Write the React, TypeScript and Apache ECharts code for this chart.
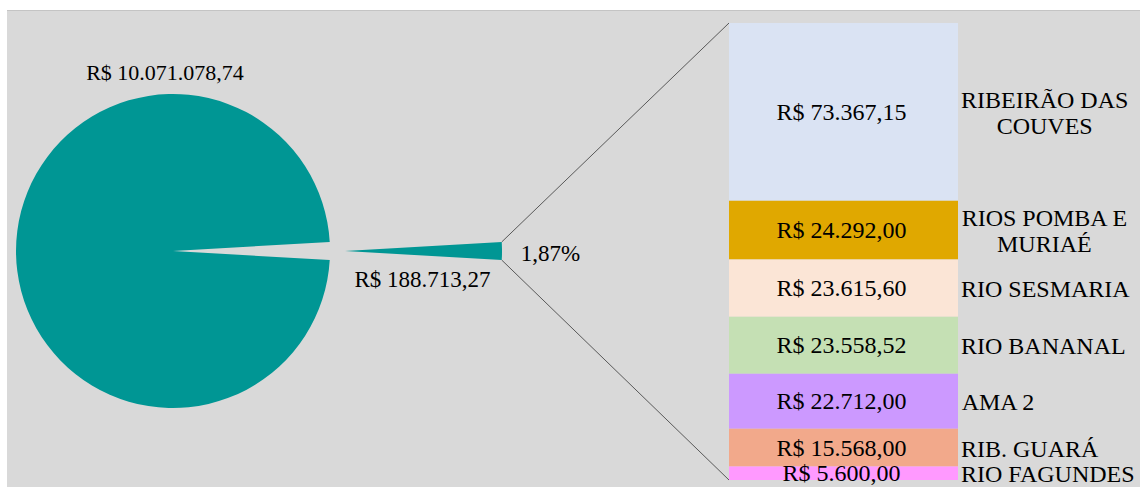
import React, { useEffect, useRef } from "react";
import * as echarts from "echarts";

// ---- data ----
const mainLabel = "R$ 10.071.078,74";
const mainValue = 10071078.74;
const barNames = [
  "RIBEIRÃO DAS\nCOUVES",
  "RIOS POMBA E\nMURIAÉ",
  "RIO SESMARIA",
  "RIO BANANAL",
  "AMA 2",
  "RIB. GUARÁ",
  "RIO FAGUNDES",
];
const barValues = [73367.15, 24292.0, 23615.6, 23558.52, 22712.0, 15568.0, 5600.0];
const barColors = ["#dae3f3", "#e0a800", "#fbe5d6", "#c5e0b4", "#cc99ff", "#f2a98b", "#ff99ff"];
const pctLabel = "1,87%";

// ---- layout / style ----
const FONT = "Liberation Serif";
const FS_MAIN = 22;
const FS_SMALL = 23;
const FS_BAR = 24;
const PIE_CX = 173;
const PIE_CY = 251;
const PIE_R = 157;
const EXPLODE = 172;
const TEAL = "#009694";

function brl(v: number): string {
  const [i, d] = v.toFixed(2).split(".");
  return "R$ " + i.replace(/\B(?=(\d{3})+(?!\d))/g, ".") + "," + d;
}

function measure(t: string): number {
  const c = document.createElement("canvas").getContext("2d")!;
  c.font = `${FS_BAR}px 'Liberation Serif'`;
  return Math.max(...t.split("\n").map((l) => c.measureText(l).width));
}

export default function App() {
  const ref = useRef<HTMLDivElement>(null);
  useEffect(() => {
    const chart = echarts.init(ref.current!, undefined, { renderer: "svg" });
    const smallTotal = barValues.reduce((a, b) => a + b, 0);
    const total = smallTotal;
    const frac = smallTotal / (smallTotal + mainValue);
    const half = (frac * 360) / 2;

    let acc = 0;
    const barData = barValues.map((v, i) => {
      const s = acc;
      acc += v;
      return [s, acc, v, i];
    });

    chart.setOption({
      animation: false,
      backgroundColor: "#d9d9d9",
      grid: { left: 729, top: 23, width: 229, height: 457 },
      xAxis: { type: "value", min: 0, max: 1, show: false },
      yAxis: { type: "value", min: 0, max: total, inverse: true, show: false },
      series: [
        {
          type: "pie",
          center: [PIE_CX, PIE_CY],
          radius: PIE_R,
          startAngle: half,
          clockwise: true,
          selectedMode: "single",
          selectedOffset: EXPLODE,
          label: { show: false },
          labelLine: { show: false },
          emphasis: { disabled: true },
          itemStyle: { color: TEAL },
          data: [
            { value: smallTotal, selected: true, name: "small" },
            { value: mainValue, name: "main" },
          ],
        },
        {
          type: "custom",
          coordinateSystem: "cartesian2d",
          data: barData,
          renderItem: (params: any, api: any) => {
            const s = api.value(0);
            const e = api.value(1);
            const v = api.value(2);
            const idx = api.value(3);
            const p0 = api.coord([0, s]);
            const p1 = api.coord([1, e]);
            const name = barNames[idx];
            const w = measure(name);
            const my = (p0[1] + p1[1]) / 2;
            return {
              type: "group",
              children: [
                {
                  type: "rect",
                  shape: { x: p0[0], y: p0[1], width: p1[0] - p0[0], height: p1[1] - p0[1] },
                  style: { fill: barColors[idx] },
                },
                {
                  type: "text",
                  x: (p0[0] + p1[0]) / 2 - 2,
                  y: my,
                  style: {
                    text: brl(v),
                    fontFamily: FONT,
                    fontSize: FS_BAR,
                    fill: "#000",
                    align: "center",
                    verticalAlign: "middle",
                  },
                },
                {
                  type: "text",
                  x: p1[0] + 3 + w / 2,
                  y: my + 1,
                  style: {
                    text: name,
                    fontFamily: FONT,
                    fontSize: FS_BAR,
                    lineHeight: 26,
                    fill: "#000",
                    align: "center",
                    verticalAlign: "middle",
                  },
                },
              ],
            };
          },
        },
      ],
    });

    const top = chart.convertToPixel({ gridIndex: 0 }, [0, 0]) as number[];
    const bot = chart.convertToPixel({ gridIndex: 0 }, [0, total]) as number[];
    const rad = (half * Math.PI) / 180;
    const ex = PIE_CX + EXPLODE + PIE_R * Math.cos(rad);
    const eyT = PIE_CY - PIE_R * Math.sin(rad);
    const eyB = PIE_CY + PIE_R * Math.sin(rad);
    const txt = (text: string, x: number, y: number, align: string, fs: number) => ({
      type: "text",
      x,
      y,
      style: { text, fontFamily: FONT, fontSize: fs, fill: "#000", align, verticalAlign: "middle" },
    });

    chart.setOption({
      graphic: [
        { type: "rect", shape: { x: 0, y: 0, width: 1140, height: 10 }, style: { fill: "#fff" } },
        { type: "rect", shape: { x: 0, y: 0, width: 7, height: 487 }, style: { fill: "#fff" } },
        { type: "line", shape: { x1: 7, y1: 10.5, x2: 1140, y2: 10.5 }, style: { stroke: "#c4c4c4", lineWidth: 1 } },
        { type: "line", shape: { x1: ex, y1: eyT, x2: top[0], y2: top[1] }, style: { stroke: "#595959", lineWidth: 1 } },
        { type: "line", shape: { x1: ex, y1: eyB, x2: bot[0], y2: bot[1] }, style: { stroke: "#595959", lineWidth: 1 } },
        txt(mainLabel, PIE_CX - 8, PIE_CY - PIE_R - 22, "center", FS_MAIN),
        txt(brl(smallTotal), PIE_CX + EXPLODE + PIE_R / 2 - 1, PIE_CY + 28, "center", FS_SMALL),
        txt(pctLabel, ex + 19, PIE_CY + 2, "left", FS_SMALL),
      ],
    });

    return () => chart.dispose();
  }, []);
  return (
    <div
      ref={ref}
      style={{ position: "absolute", left: 0, top: 0, width: 1140, height: 487 }}
    />
  );
}
